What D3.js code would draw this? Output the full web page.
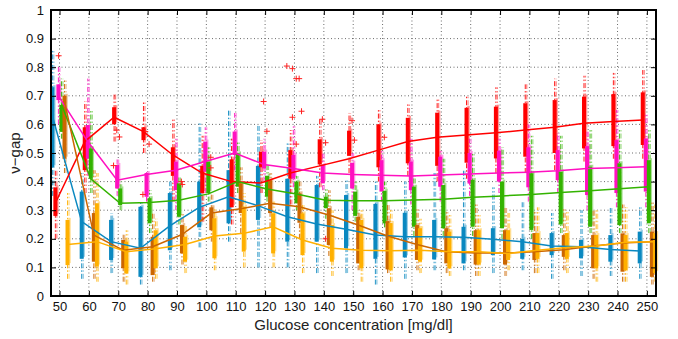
<!DOCTYPE html>
<html>
<head>
<meta charset="utf-8">
<script src="https://cdn.jsdelivr.net/npm/d3@7"></script>
<style>
  body { margin: 0; background: #fff; }
  text { font-family: "Liberation Sans", Arial, sans-serif; }
</style>
</head>
<body>
<svg id="chart" width="678" height="339"></svg>
<script>
// glucose levels on the x axis
const glucose = [50, 60, 70, 80, 90, 100, 110, 120, 130, 140, 150, 160, 170, 180, 190, 200, 210, 220, 230, 240, 250];
const yTicks = [0, 0.1, 0.2, 0.3, 0.4, 0.5, 0.6, 0.7, 0.8, 0.9, 1];
const seriesNames = ['blue', 'red', 'magenta', 'green', 'brown', 'yellow'];
const seriesColors = ['#0a88c0', '#ff0000', '#ff10c0', '#33b300', '#cc6600', '#ffb000'];

// line through the boxes
const blueLine = [0.63, 0.26, 0.19, 0.167, 0.245, 0.31, 0.347, 0.316, 0.277, 0.252, 0.233, 0.213, 0.207, 0.207, 0.205, 0.198, 0.19, 0.175, 0.172, 0.163, 0.157];
const redLine = [0.325, 0.54, 0.625, 0.575, 0.493, 0.43, 0.40, 0.395, 0.43, 0.455, 0.48, 0.51, 0.54, 0.555, 0.563, 0.571, 0.58, 0.59, 0.604, 0.61, 0.615];
const magentaLine = [0.70, 0.54, 0.405, 0.425, 0.44, 0.47, 0.50, 0.46, 0.446, 0.43, 0.425, 0.422, 0.42, 0.423, 0.427, 0.43, 0.433, 0.438, 0.446, 0.448, 0.452];
const greenLine = [0.67, 0.41, 0.324, 0.327, 0.335, 0.357, 0.40, 0.374, 0.357, 0.335, 0.333, 0.333, 0.336, 0.338, 0.345, 0.35, 0.355, 0.362, 0.368, 0.375, 0.382];
const brownLine = [0.68, 0.213, 0.16, 0.172, 0.215, 0.29, 0.305, 0.324, 0.312, 0.283, 0.248, 0.21, 0.18, 0.155, 0.15, 0.15, 0.155, 0.162, 0.175, 0.185, 0.19];
const yellowLine = [0.18, 0.19, 0.155, 0.165, 0.18, 0.21, 0.219, 0.242, 0.196, 0.167, 0.16, 0.158, 0.16, 0.155, 0.155, 0.149, 0.16, 0.17, 0.175, 0.188, 0.19];

// box lower / upper quartiles
const blueQ1 = [0.45, 0.13, 0.126, 0.067, 0.16, 0.24, 0.254, 0.266, 0.19, 0.19, 0.167, 0.13, 0.135, 0.128, 0.114, 0.143, 0.13, 0.143, 0.132, 0.12, 0.114];
const blueQ3 = [0.73, 0.365, 0.266, 0.312, 0.36, 0.40, 0.44, 0.455, 0.41, 0.388, 0.353, 0.322, 0.291, 0.266, 0.242, 0.237, 0.20, 0.22, 0.196, 0.213, 0.225];
const redQ1 = [0.28, 0.44, 0.60, 0.545, 0.42, 0.36, 0.31, 0.45, 0.41, 0.46, 0.49, 0.45, 0.464, 0.455, 0.466, 0.481, 0.487, 0.50, 0.516, 0.524, 0.528];
const redQ3 = [0.38, 0.59, 0.66, 0.59, 0.52, 0.455, 0.478, 0.505, 0.51, 0.548, 0.578, 0.60, 0.623, 0.641, 0.658, 0.662, 0.674, 0.685, 0.697, 0.706, 0.712];
const magentaQ1 = [0.685, 0.48, 0.376, 0.347, 0.37, 0.435, 0.493, 0.446, 0.41, 0.394, 0.376, 0.365, 0.37, 0.382, 0.393, 0.40, 0.38, 0.405, 0.353, 0.36, 0.365];
const magentaQ3 = [0.74, 0.598, 0.458, 0.43, 0.47, 0.54, 0.575, 0.505, 0.493, 0.458, 0.466, 0.475, 0.47, 0.487, 0.50, 0.508, 0.52, 0.51, 0.524, 0.545, 0.551];
const greenQ1 = [0.574, 0.41, 0.318, 0.254, 0.277, 0.36, 0.382, 0.347, 0.324, 0.307, 0.28, 0.254, 0.242, 0.237, 0.242, 0.237, 0.231, 0.25, 0.242, 0.248, 0.254];
const greenQ3 = [0.668, 0.516, 0.376, 0.342, 0.394, 0.47, 0.499, 0.42, 0.40, 0.347, 0.365, 0.368, 0.382, 0.388, 0.406, 0.40, 0.429, 0.435, 0.452, 0.464, 0.475];
const brownQ1 = [0.48, 0.12, 0.097, 0.073, 0.149, 0.23, 0.29, 0.29, 0.256, 0.178, 0.114, 0.093, 0.126, 0.114, 0.11, 0.11, 0.126, 0.137, 0.097, 0.085, 0.067];
const brownQ3 = [0.70, 0.29, 0.196, 0.207, 0.248, 0.31, 0.394, 0.405, 0.359, 0.307, 0.277, 0.262, 0.248, 0.237, 0.23, 0.23, 0.22, 0.213, 0.213, 0.219, 0.225];
const yellowQ1 = [0.108, 0.103, 0.079, 0.097, 0.12, 0.132, 0.155, 0.149, 0.143, 0.12, 0.097, 0.09, 0.12, 0.097, 0.11, 0.126, 0.13, 0.13, 0.097, 0.09, 0.08];
const yellowQ3 = [0.266, 0.324, 0.19, 0.23, 0.207, 0.272, 0.312, 0.289, 0.289, 0.248, 0.266, 0.255, 0.237, 0.225, 0.23, 0.23, 0.22, 0.22, 0.213, 0.213, 0.22];

// whisker ends
const blueLo = [0.35, 0.06, 0.08, 0.04, 0.09, 0.17, 0.19, 0.10, 0.10, 0.08, 0.08, 0.04, 0.06, 0.09, 0.09, 0.08, 0.09, 0.06, 0.07, 0.07, 0.06];
const blueHi = [0.86, 0.43, 0.29, 0.33, 0.40, 0.61, 0.65, 0.60, 0.54, 0.42, 0.41, 0.40, 0.40, 0.43, 0.44, 0.38, 0.33, 0.29, 0.30, 0.31, 0.31];
const redLo = [0.20, 0.36, 0.54, 0.50, 0.33, 0.26, 0.25, 0.36, 0.32, 0.38, 0.43, 0.40, 0.42, 0.40, 0.41, 0.43, 0.43, 0.44, 0.47, 0.48, 0.48];
const redHi = [0.44, 0.68, 0.71, 0.68, 0.62, 0.56, 0.55, 0.545, 0.58, 0.62, 0.64, 0.65, 0.67, 0.69, 0.70, 0.73, 0.74, 0.76, 0.77, 0.78, 0.79];
const magentaLo = [0.60, 0.42, 0.35, 0.33, 0.30, 0.36, 0.44, 0.40, 0.38, 0.37, 0.30, 0.33, 0.32, 0.33, 0.35, 0.36, 0.33, 0.36, 0.30, 0.31, 0.31];
const magentaHi = [0.80, 0.76, 0.48, 0.44, 0.55, 0.59, 0.64, 0.55, 0.60, 0.50, 0.50, 0.51, 0.55, 0.51, 0.55, 0.55, 0.60, 0.57, 0.58, 0.65, 0.64];
const greenLo = [0.55, 0.36, 0.30, 0.22, 0.25, 0.33, 0.36, 0.33, 0.30, 0.27, 0.26, 0.24, 0.21, 0.21, 0.21, 0.20, 0.20, 0.22, 0.22, 0.22, 0.22];
const greenHi = [0.76, 0.65, 0.40, 0.37, 0.42, 0.52, 0.54, 0.46, 0.42, 0.38, 0.40, 0.40, 0.42, 0.48, 0.50, 0.52, 0.56, 0.56, 0.58, 0.58, 0.58];
const brownLo = [0.43, 0.06, 0.05, 0.05, 0.11, 0.19, 0.22, 0.24, 0.20, 0.14, 0.09, 0.08, 0.09, 0.08, 0.07, 0.07, 0.08, 0.09, 0.06, 0.05, 0.04];
const brownHi = [0.76, 0.44, 0.22, 0.29, 0.29, 0.36, 0.45, 0.43, 0.40, 0.37, 0.30, 0.32, 0.31, 0.30, 0.32, 0.31, 0.30, 0.31, 0.30, 0.32, 0.33];
const yellowLo = [0.06, 0.05, 0.04, 0.06, 0.08, 0.09, 0.10, 0.10, 0.08, 0.07, 0.05, 0.05, 0.08, 0.07, 0.07, 0.09, 0.08, 0.08, 0.05, 0.05, 0.05];
const yellowHi = [0.36, 0.43, 0.23, 0.27, 0.25, 0.31, 0.36, 0.33, 0.32, 0.30, 0.30, 0.30, 0.27, 0.29, 0.29, 0.29, 0.31, 0.30, 0.30, 0.31, 0.32];

// red outliers: [glucose, value]
const redOutliers = [
  [49.7, 0.84], [68.4, 0.456], [69.5, 0.58], [70.4, 0.556], [79.2, 0.575], [80.5, 0.531], [78.4, 0.355],
  [91.5, 0.40], [91.8, 0.39], [101.5, 0.485], [101.5, 0.448], [119.5, 0.68], [120.6, 0.576],
  [127.4, 0.804], [129.3, 0.795], [130.6, 0.76], [131.6, 0.76], [129.3, 0.625], [132.4, 0.646],
  [130.6, 0.531], [139.5, 0.618], [140.6, 0.536], [140.6, 0.20], [149.6, 0.613], [150.4, 0.545], [160.6, 0.555]
];

const lines = [blueLine, redLine, magentaLine, greenLine, brownLine, yellowLine];
const q1s = [blueQ1, redQ1, magentaQ1, greenQ1, brownQ1, yellowQ1];
const q3s = [blueQ3, redQ3, magentaQ3, greenQ3, brownQ3, yellowQ3];
const los = [blueLo, redLo, magentaLo, greenLo, brownLo, yellowLo];
const his = [blueHi, redHi, magentaHi, greenHi, brownHi, yellowHi];

const width = 678, height = 339;
const margin = { top: 10, right: 22, bottom: 43, left: 51 };
const iw = width - margin.left - margin.right;
const ih = height - margin.top - margin.bottom;

const svg = d3.select('#chart');
const g = svg.append('g').attr('transform', `translate(${margin.left},${margin.top})`);

const x = d3.scaleLinear().domain([47.1, 253.1]).range([0, iw]);
const y = d3.scaleLinear().domain([0, 1]).range([ih, 0]);
// pixel offset of each series around its glucose tick
const off = d3.scalePoint().domain(seriesNames).range([-7.2, 8]);

// dotted grid
g.append('g').selectAll('line').data(glucose).enter().append('line')
  .attr('x1', d => x(d)).attr('x2', d => x(d)).attr('y1', 0).attr('y2', ih)
  .attr('stroke', '#444').attr('stroke-width', 0.8).attr('stroke-dasharray', '1,2.5');
g.append('g').selectAll('line').data(yTicks.slice(1, -1)).enter().append('line')
  .attr('x1', 0).attr('x2', iw).attr('y1', d => y(d)).attr('y2', d => y(d))
  .attr('stroke', '#444').attr('stroke-width', 0.8).attr('stroke-dasharray', '1,2.5');

const lighten = c => d3.interpolateRgb(c, '#fff')(0.5);

// boxes
seriesNames.forEach((name, s) => {
  const col = seriesColors[s];
  const light = lighten(col);
  const grp = g.append('g');
  const rows = glucose.map((gl, i) => ({ gl, q1: q1s[s][i], q3: q3s[s][i], lo: los[s][i], hi: his[s][i] }));
  const px = d => x(d.gl) + off(name);
  // whisker (dash-dot, light)
  grp.selectAll('.wh').data(rows).enter().append('line')
    .attr('x1', d => px(d) + 1.5).attr('x2', d => px(d) + 1.5)
    .attr('y1', d => y(d.lo)).attr('y2', d => y(d.hi))
    .attr('stroke', light).attr('stroke-width', 1.2).attr('stroke-dasharray', '5,2,1.5,2');
  grp.selectAll('.wh2').data(rows).enter().append('line')
    .attr('x1', d => px(d)).attr('x2', d => px(d))
    .attr('y1', d => y(d.lo)).attr('y2', d => y(d.hi))
    .attr('stroke', col).attr('stroke-width', 0.9).attr('stroke-dasharray', '5,2,1.5,2');
  // light secondary box
  grp.selectAll('.lb').data(rows).enter().append('line')
    .attr('x1', d => px(d) + 2).attr('x2', d => px(d) + 2)
    .attr('y1', d => y(d.q1) - 2).attr('y2', d => y(d.q3) - 2)
    .attr('stroke', light).attr('stroke-opacity', 0.8).attr('stroke-width', 2.5);
  // main box
  grp.selectAll('.bx').data(rows).enter().append('line')
    .attr('x1', d => px(d)).attr('x2', d => px(d))
    .attr('y1', d => y(d.q1)).attr('y2', d => y(d.q3))
    .attr('stroke', col).attr('stroke-width', 4);
});

// outliers
const plus = g.append('g').selectAll('g').data(redOutliers).enter().append('g')
  .attr('transform', d => `translate(${x(d[0])},${y(d[1])})`);
plus.append('line').attr('x1', -3).attr('x2', 3).attr('stroke', '#ff2020').attr('stroke-width', 1);
plus.append('line').attr('y1', -3).attr('y2', 3).attr('stroke', '#ff2020').attr('stroke-width', 1);

// lines through the series
seriesNames.forEach((name, s) => {
  const line = d3.line().x((d, i) => x(glucose[i]) + off(name)).y(d => y(d));
  g.append('path').datum(lines[s]).attr('d', line)
    .attr('fill', 'none').attr('stroke', seriesColors[s]).attr('stroke-width', 1.5);
});

// axes, MATLAB-like box with inward ticks
const xa = g.append('g').attr('transform', `translate(0,${ih})`)
  .call(d3.axisBottom(x).tickValues(glucose).tickSizeInner(-5).tickSizeOuter(0).tickPadding(6));
const xt = g.append('g')
  .call(d3.axisTop(x).tickValues(glucose).tickSizeInner(-5).tickSizeOuter(0).tickFormat(''));
const ya = g.append('g')
  .call(d3.axisLeft(y).tickValues(yTicks).tickSizeInner(-5).tickSizeOuter(0).tickPadding(7).tickFormat(d3.format('')));
const yr = g.append('g').attr('transform', `translate(${iw},0)`)
  .call(d3.axisRight(y).tickValues(yTicks).tickSizeInner(-5).tickSizeOuter(0).tickFormat(''));
[xa, xt, ya, yr].forEach(a => {
  a.select('.domain').remove();
  a.selectAll('.tick line').attr('stroke', '#000').attr('stroke-width', 1);
  a.selectAll('text').attr('font-size', 13).attr('fill', '#111').style('font-family', '"Liberation Sans", Arial, sans-serif');
});
g.append('rect').attr('width', iw).attr('height', ih)
  .attr('fill', 'none').attr('stroke', '#000').attr('stroke-width', 2);

svg.append('text').attr('x', margin.left + iw / 2).attr('y', 330)
  .attr('text-anchor', 'middle').attr('font-size', 15).attr('fill', '#222')
  .text('Glucose concentration [mg/dl]');
svg.append('text').attr('transform', `translate(20,${margin.top + ih / 2}) rotate(-90)`)
  .attr('text-anchor', 'middle').attr('font-size', 15).attr('fill', '#222')
  .text('ν−gap');
</script>
</body>
</html>
